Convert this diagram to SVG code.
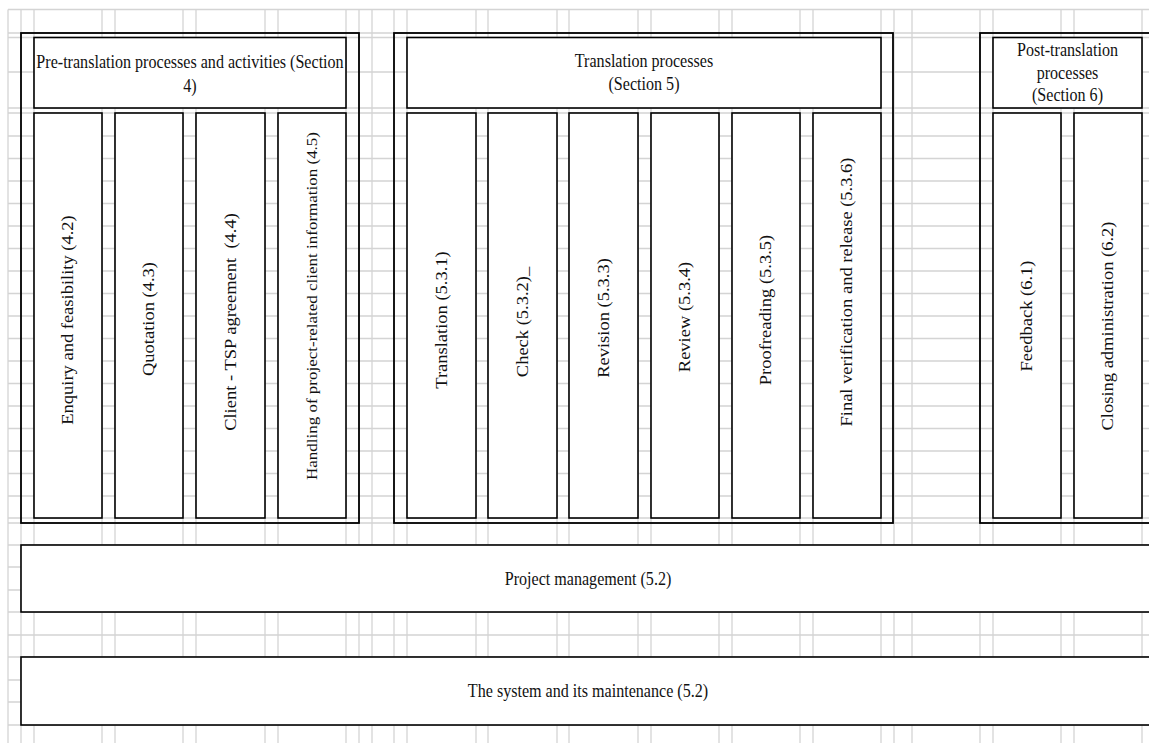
<svg xmlns="http://www.w3.org/2000/svg" width="1149" height="743" viewBox="0 0 1149 743">
  <style>
    .grid { stroke: #d4d4d4; stroke-width: 1.3; fill: none; }
    .frame { fill: none; stroke: #000; stroke-width: 1.8; }
    .box { fill: #fff; stroke: #000; stroke-width: 1.6; }
    .lbl { font-family: "Liberation Serif", "Times New Roman", serif; font-size: 18.5px; fill: #111; text-anchor: middle; }
    .vlbl { font-family: "Liberation Serif", "Times New Roman", serif; font-size: 18.5px; fill: #111; text-anchor: middle; dominant-baseline: central; }
    .small { font-size: 17px; }
  </style>
  <rect width="1149" height="743" fill="#fff"/>

  <!-- background table grid -->
  <g id="grid" class="grid">
    <path d="M8 9.5V743 M21 9.5V743 M34 9.5V743 M102 9.5V743 M115 9.5V743 M183 9.5V743 M196 9.5V743 M265 9.5V743 M278 9.5V743 M346 9.5V743 M359 9.5V743 M372 9.5V743 M394 9.5V743 M407 9.5V743 M476 9.5V743 M488 9.5V743 M557 9.5V743 M569 9.5V743 M638 9.5V743 M651 9.5V743 M719 9.5V743 M732 9.5V743 M800 9.5V743 M813 9.5V743 M881 9.5V743 M894 9.5V743 M912 9.5V743 M980 9.5V743 M993 9.5V743 M1061 9.5V743 M1074 9.5V743 M1142 9.5V743"/>
    <path d="M8 9.5H1149 M8 33H1149 M8 37.5H1149 M8 72H1149 M8 108H1149 M8 113H1149 M8 136H1149 M8 158.5H1149 M8 181H1149 M8 203.5H1149 M8 226H1149 M8 248.5H1149 M8 271H1149 M8 293.5H1149 M8 316H1149 M8 338.5H1149 M8 361H1149 M8 383.5H1149 M8 406H1149 M8 428.5H1149 M8 451H1149 M8 473.5H1149 M8 496H1149 M8 518H1149 M8 523H1149 M8 545H1149 M8 567H1149 M8 590H1149 M8 612H1149 M8 635H1149 M8 657H1149 M8 680H1149 M8 702H1149 M8 725H1149"/>
  </g>

  <g id="connectors"></g>

  <!-- pre-translation section -->
  <g id="pre-translation">
    <rect class="frame" x="21" y="33" width="338" height="490"/>
    <rect class="box" x="34" y="37.5" width="312" height="70.5"/>
    <text class="lbl" transform="translate(190,68) scale(0.87,1)">Pre-translation processes and activities (Section</text>
    <text class="lbl" transform="translate(190,92) scale(0.87,1)">4)</text>
  </g>
  <g id="enquiry">
    <rect class="box" x="34" y="113" width="68" height="405"/>
    <text class="vlbl" transform="translate(68,320) scale(0.87,1) rotate(-90)">Enquiry and feasibility (4.2)</text>
  </g>
  <g id="quotation">
    <rect class="box" x="115" y="113" width="68" height="405"/>
    <text class="vlbl" transform="translate(149,319) scale(0.87,1) rotate(-90)">Quotation (4.3)</text>
  </g>
  <g id="agreement">
    <rect class="box" x="196" y="113" width="69" height="405"/>
    <text class="vlbl" transform="translate(230.5,322) scale(0.87,1) rotate(-90)">Client - TSP agreement&#160; (4.4)</text>
  </g>
  <g id="client-info">
    <rect class="box" x="278" y="113" width="68" height="405"/>
    <text class="vlbl small" transform="translate(312,306) scale(0.9,1) rotate(-90)">Handling of project-related client information (4.5)</text>
  </g>

  <!-- translation section -->
  <g id="translation-processes">
    <rect class="frame" x="394" y="33" width="499" height="490"/>
    <rect class="box" x="407" y="37.5" width="474" height="70.5"/>
    <text class="lbl" transform="translate(644,67) scale(0.87,1)">Translation processes</text>
    <text class="lbl" transform="translate(644,90) scale(0.87,1)">(Section 5)</text>
  </g>
  <g id="translation">
    <rect class="box" x="407" y="113" width="69" height="405"/>
    <text class="vlbl" transform="translate(441.5,320) scale(0.87,1) rotate(-90)">Translation (5.3.1)</text>
  </g>
  <g id="check">
    <rect class="box" x="488" y="113" width="69" height="405"/>
    <text class="vlbl" transform="translate(522.5,322) scale(0.87,1) rotate(-90)">Check (5.3.2)_</text>
  </g>
  <g id="revision">
    <rect class="box" x="569" y="113" width="69" height="405"/>
    <text class="vlbl" transform="translate(603.5,318) scale(0.87,1) rotate(-90)">Revision (5.3.3)</text>
  </g>
  <g id="review">
    <rect class="box" x="651" y="113" width="68" height="405"/>
    <text class="vlbl" transform="translate(685,317) scale(0.87,1) rotate(-90)">Review (5.3.4)</text>
  </g>
  <g id="proofreading">
    <rect class="box" x="732" y="113" width="68" height="405"/>
    <text class="vlbl" transform="translate(766,310) scale(0.87,1) rotate(-90)">Proofreading (5.3.5)</text>
  </g>
  <g id="final-verification">
    <rect class="box" x="813" y="113" width="68" height="405"/>
    <text class="vlbl" transform="translate(847,292) scale(0.87,1) rotate(-90)">Final verification and release (5.3.6)</text>
  </g>

  <!-- post-translation section -->
  <g id="post-translation">
    <rect class="frame" x="980" y="33" width="200" height="490"/>
    <rect class="box" x="993" y="37.5" width="149" height="70.5"/>
    <text class="lbl" transform="translate(1067.5,56) scale(0.87,1)">Post-translation</text>
    <text class="lbl" transform="translate(1067.5,78.5) scale(0.87,1)">processes</text>
    <text class="lbl" transform="translate(1067.5,101) scale(0.87,1)">(Section 6)</text>
  </g>
  <g id="feedback">
    <rect class="box" x="993" y="113" width="68" height="405"/>
    <text class="vlbl" transform="translate(1027,316) scale(0.87,1) rotate(-90)">Feedback (6.1)</text>
  </g>
  <g id="closing">
    <rect class="box" x="1074" y="113" width="68" height="405"/>
    <text class="vlbl" transform="translate(1108,326) scale(0.87,1) rotate(-90)">Closing administration (6.2)</text>
  </g>

  <!-- bands spanning all sections -->
  <g id="project-management">
    <rect class="box" x="21" y="545" width="1140" height="67"/>
    <text class="lbl" transform="translate(588,585) scale(0.87,1)">Project management (5.2)</text>
  </g>
  <g id="system-maintenance">
    <rect class="box" x="21" y="657" width="1140" height="68"/>
    <text class="lbl" transform="translate(588,697) scale(0.87,1)">The system and its maintenance (5.2)</text>
  </g>
</svg>
